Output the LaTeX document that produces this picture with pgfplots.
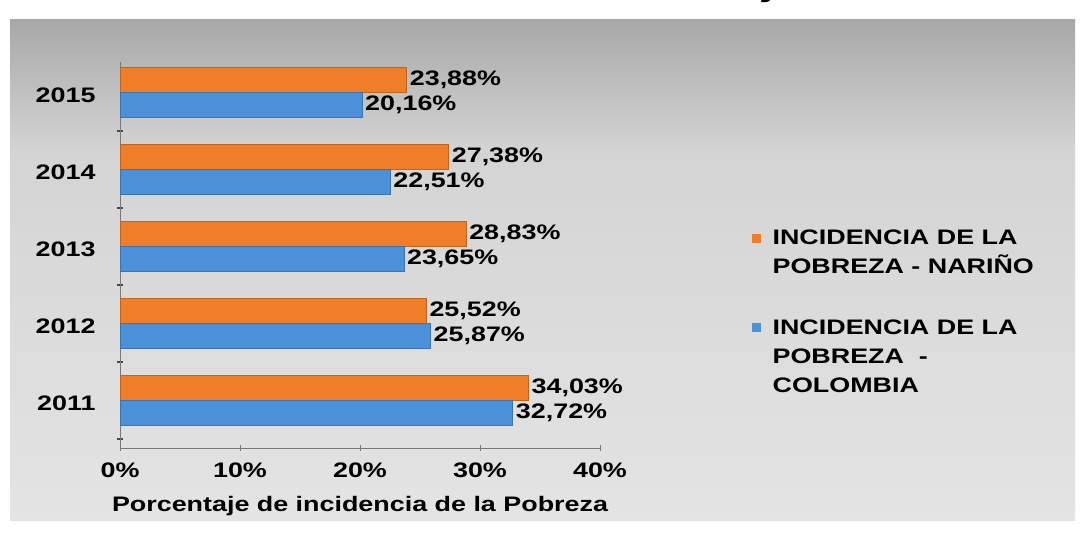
\documentclass[border=0pt]{standalone}
\usepackage{fontspec}
\setmainfont{Liberation Sans}[FakeStretch=1.28]
\usepackage{pgfplots}
\pgfplotsset{compat=1.18}
\definecolor{nar}{RGB}{240,125,40}
\definecolor{col}{RGB}{75,145,218}
\definecolor{axgray}{RGB}{120,120,120}
\begin{document}
\begin{tikzpicture}[x=1pt,y=1pt]
\useasboundingbox (0,0) rectangle (1081,542);
\fill[white] (0,0) rectangle (1081,542);
\shade[top color={rgb,255:red,212;green,212;blue,212},
       bottom color={rgb,255:red,228;green,228;blue,228}] (10,22) rectangle (1075,392);
\shade[top color={rgb,255:red,168;green,168;blue,168},
       bottom color={rgb,255:red,212;green,212;blue,212}] (10,391.5) rectangle (1075,522);
\node[font=\bfseries\fontsize{30}{30}\selectfont, anchor=base, inner sep=0pt] at (770,545) {y};
\begin{axis}[
  at={(120pt,94pt)}, anchor=south west,
  scale only axis, width=480pt, height=386pt,
  xbar, bar width=25pt,
  xmin=0, xmax=40, ymin=-0.62, ymax=4.4,
  xtick={0,10,20,30,40}, xticklabels={0\%,10\%,20\%,30\%,40\%},
  ytick={0,1,2,3,4}, yticklabels={2011,2012,2013,2014,2015},
  minor ytick={-0.5,0.5,1.5,2.5,3.5},
  major y tick style={draw=none},
  minor y tick style={draw=axgray!60!black, line width=1.5pt},
  minor tick length=6pt,
  axis x line*=bottom, axis y line*=left,
  axis line style={draw=axgray, line width=0.8pt, -},
  xtick style={draw=axgray, line width=0.8pt},
  tick align=center, major tick length=6pt,
  /pgf/number format/assume math mode=true,
  tick label style={font=\bfseries\fontsize{21}{24}\selectfont, text=black},
  xticklabel style={yshift=-8pt},
  yticklabel style={xshift=-18pt, yshift=-3pt},
  xlabel={Porcentaje de incidencia de la Pobreza},
  xlabel style={font=\bfseries\fontsize{21}{24}\selectfont, yshift=-12pt},
  nodes near coords={\pgfmathprintnumber[fixed,fixed zerofill,precision=2,use comma]{\pgfplotspointmeta}\%},
  nodes near coords style={font=\bfseries\fontsize{21}{24}\selectfont, text=black, anchor=west, inner sep=3pt},
  legend style={at={(rel axis cs:1.31,0.575)}, anchor=north west, draw=none, fill=none,
     font=\bfseries\fontsize{21}{29}\selectfont, row sep=40pt, column sep=10pt,
     cells={anchor=west, align=left}},
]
\addplot[fill=nar, draw=nar!80!black, line width=0.6pt, bar shift=12.5pt,
  legend image code/.code={\fill[nar] (0pt,10.5pt) rectangle (8pt,18.5pt); \path (0pt,-18.5pt);}] coordinates {
  (34.03,0) (25.52,1) (28.83,2) (27.38,3) (23.88,4)};
\addplot[fill=col, draw=col!80!black, line width=0.6pt, bar shift=-12.5pt,
  legend image code/.code={\fill[col] (0pt,25pt) rectangle (8pt,33pt); \path (0pt,-33pt);}] coordinates {
  (32.72,0) (25.87,1) (23.65,2) (22.51,3) (20.16,4)};
\legend{INCIDENCIA DE LA\\POBREZA - NARIÑO, INCIDENCIA DE LA\\POBREZA \ -\\COLOMBIA}
\end{axis}
\end{tikzpicture}
\end{document}
